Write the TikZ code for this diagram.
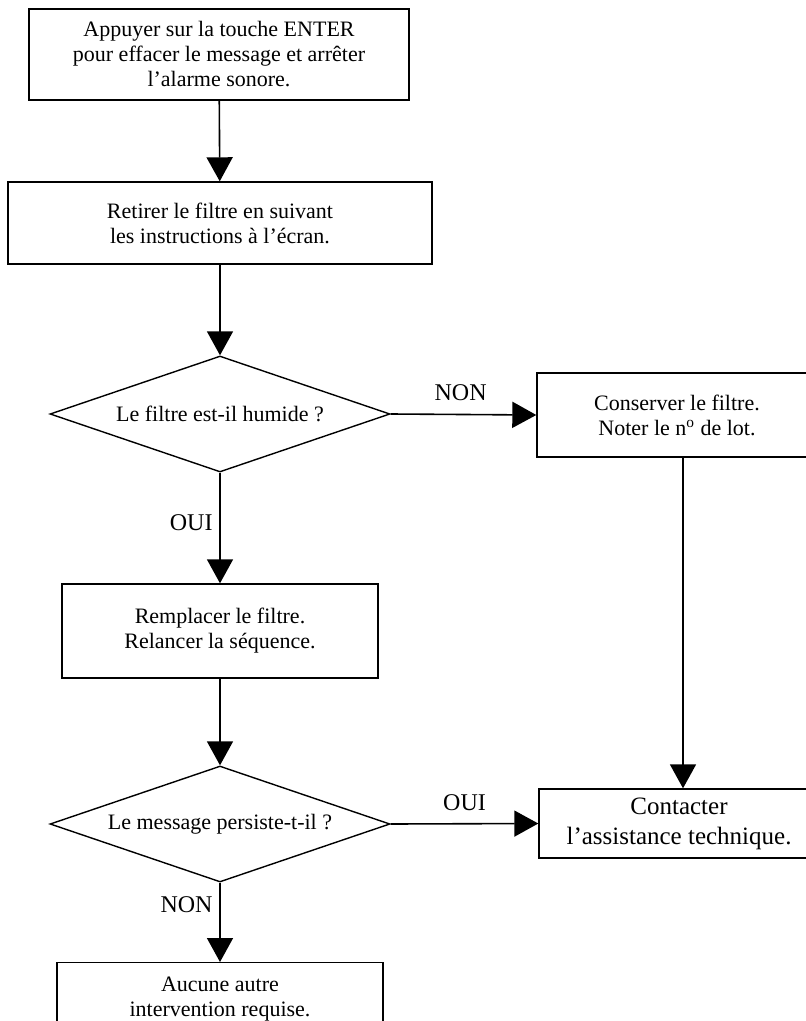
\documentclass[tikz,border=0pt]{standalone}
\usepackage{fontspec}
\setmainfont{Liberation Serif}
\usetikzlibrary{shapes.geometric, arrows.meta, calc}

\begin{document}
\begin{tikzpicture}[
  x=0.5pt, y=-0.5pt,
  font=\fontsize{11}{12.5}\selectfont,
  box/.style={rectangle, draw=black, line width=0.7pt, fill=white,
              align=center, inner sep=2pt},
  ask/.style={diamond, aspect=3, draw=black, line width=0.7pt, fill=white,
              align=center, inner sep=0pt, minimum width=170pt, minimum height=58pt},
  arr/.style={-{Triangle[length=12pt,width=13pt]}, line width=0.8pt},
  lbl/.style={font=\fontsize{12}{14}\selectfont},
]
\clip (0,0) rectangle (806,1021);
\node (enter)   [box, minimum width=190pt, minimum height=45.5pt] at (219,54.5)
  {Appuyer sur la touche ENTER\\ pour effacer le message et arrêter\\ l’alarme sonore.};
\node (retirer) [box, minimum width=212pt, minimum height=41pt] at (220,223)
  {Retirer le filtre en suivant\\ les instructions à l'écran.};
\node (humide)  [ask] at (220,414) {Le filtre est-il humide ?};
\node (garder)  [box, minimum width=140pt, minimum height=42pt] at (677,415)
  {Conserver le filtre.\\ Noter le n\textsuperscript{o} de lot.};
\node (changer) [box, minimum width=158pt, minimum height=47pt] at (220,631)
  {Remplacer le filtre.\\ Relancer la séquence.};
\node (persiste)[ask] at (220,824) {Le message persiste-t-il ?};
\node (contact) [box, minimum width=140pt, minimum height=34.5pt,
                 font=\fontsize{12.5}{15}\selectfont] at (679,823.5)
  {Contacter\\ l’assistance technique.};
\node (fin)     [box, minimum width=163pt, minimum height=36pt,
                 anchor=north] at (220,962)
  {Aucune autre\\ intervention requise.};
% edges
\foreach \a/\b in {enter/retirer,retirer/humide,changer/persiste}
  \draw [arr] (\a) -- (\b);
\draw [arr] (humide.east) -- node[lbl,above,pos=0.48,yshift=3pt]{NON} (garder.west);
\draw [arr] (humide.south) -- node[lbl,left,pos=0.45]{OUI} (changer.north);
\draw [arr] (persiste.east) -- node[lbl,above,pos=0.5,yshift=3pt]{OUI} (contact.west);
\draw [arr] (persiste.south) -- node[lbl,left,pos=0.28]{NON} (fin.north);
\coordinate (drop) at (683,0);
\draw [arr] (garder.south -| drop) -- (contact.north -| drop);
\end{tikzpicture}
\end{document}
